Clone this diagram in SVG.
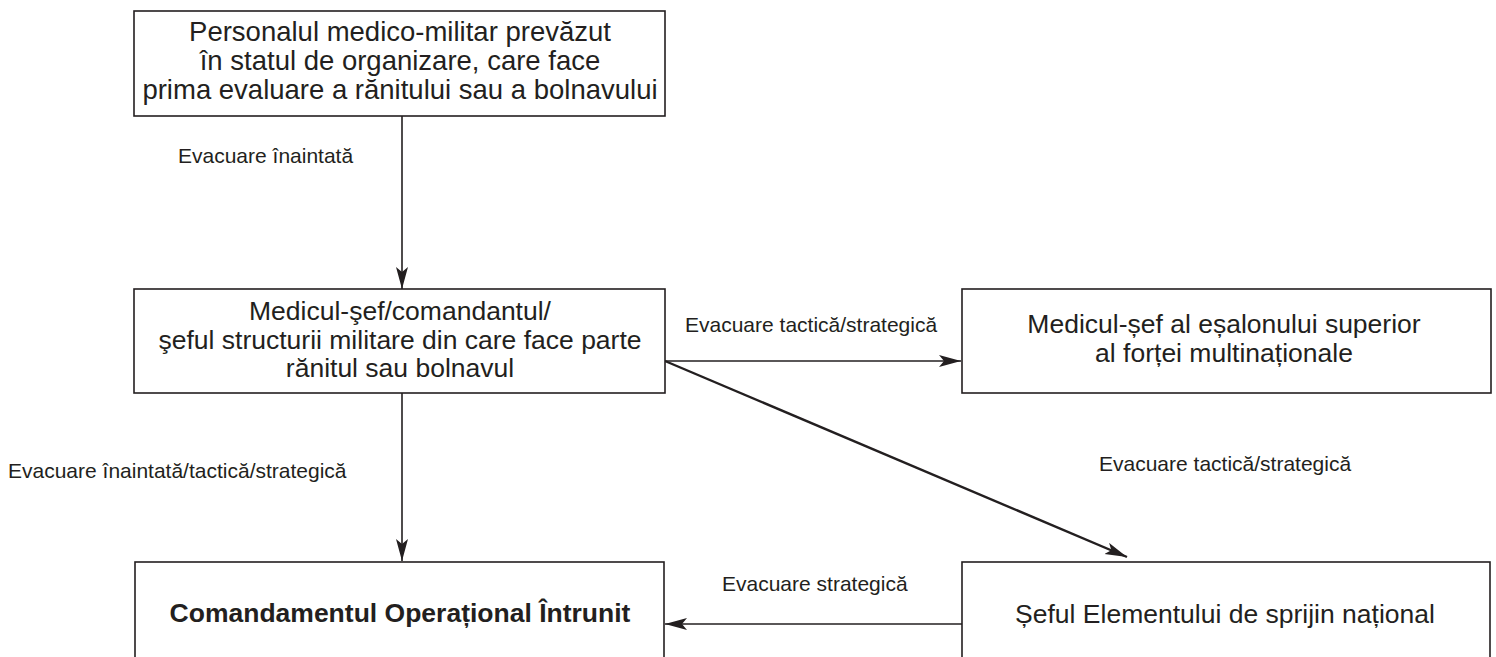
<svg xmlns="http://www.w3.org/2000/svg" width="1496" height="657" viewBox="0 0 1496 657">
<style>
  .box { fill: #ffffff; stroke: #231f20; stroke-width: 1.6; }
  .node { font-family: "Liberation Sans", Arial, sans-serif; font-size: 26.5px; fill: #231f20; text-anchor: middle; }
  .bold { font-weight: bold; }
  .lbl { font-family: "Liberation Sans", Arial, sans-serif; font-size: 21px; fill: #231f20; }
  .edge { stroke: #231f20; stroke-width: 1.6; fill: none; marker-end: url(#arrow); }
  .thick { stroke-width: 2.4; }
</style>
<defs>
  <marker id="arrow" markerUnits="userSpaceOnUse" markerWidth="24" markerHeight="14" refX="22" refY="6" orient="auto">
    <path d="M0,0 L22,6 L0,12 L5,6 Z" fill="#231f20"/>
  </marker>
</defs>
<rect width="1496" height="657" fill="#ffffff"/>

<g id="connectors">
  <line class="edge" x1="402" y1="116" x2="402" y2="289"/>
  <line class="edge" x1="402" y1="393" x2="402" y2="561"/>
  <line class="edge" x1="665" y1="361" x2="961" y2="361"/>
  <line class="edge thick" x1="665" y1="361" x2="1127" y2="557"/>
  <line class="edge" x1="962" y1="624" x2="665" y2="624"/>
  <text class="lbl" x="178" y="163">Evacuare înaintată</text>
  <text class="lbl" x="8" y="478">Evacuare înaintată/tactică/strategică</text>
  <text class="lbl" x="685" y="332">Evacuare tactică/strategică</text>
  <text class="lbl" x="1099" y="471">Evacuare tactică/strategică</text>
  <text class="lbl" x="722" y="591">Evacuare strategică</text>
</g>

<g id="node-personal">
  <rect class="box" x="134" y="11" width="531" height="105"/>
  <text class="node" x="400" y="41" style="font-size:27.5px">Personalul medico-militar prevăzut</text>
  <text class="node" x="400" y="70" style="font-size:27.5px">în statul de organizare, care face</text>
  <text class="node" x="400" y="99" style="font-size:27.5px">prima evaluare a rănitului sau a bolnavului</text>
</g>

<g id="node-medic-sef">
  <rect class="box" x="134" y="289" width="531" height="104"/>
  <text class="node" x="400" y="320">Medicul-şef/comandantul/</text>
  <text class="node" x="400" y="349">şeful structurii militare din care face parte</text>
  <text class="node" x="400" y="377">rănitul sau bolnavul</text>
</g>

<g id="node-esalon">
  <rect class="box" x="962" y="289" width="529" height="104"/>
  <text class="node" x="1224" y="333">Medicul-șef al eșalonului superior</text>
  <text class="node" x="1224" y="362">al forței multinaționale</text>
</g>

<g id="node-comandament">
  <rect class="box" x="135" y="562" width="529" height="120"/>
  <text class="node bold" x="400" y="622">Comandamentul Operațional Întrunit</text>
</g>

<g id="node-nse">
  <rect class="box" x="962" y="562" width="528" height="120"/>
  <text class="node" x="1225" y="623">Șeful Elementului de sprijin național</text>
</g>
</svg>
